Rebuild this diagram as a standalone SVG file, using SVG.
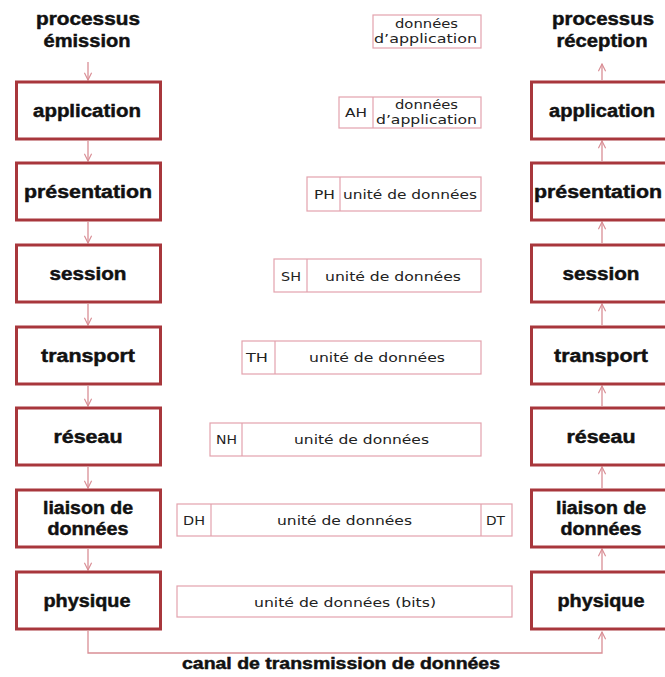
<svg xmlns="http://www.w3.org/2000/svg" width="665" height="677" viewBox="0 0 665 677">
<defs>
<style>
.layer{fill:#fff;stroke:#a8373c;stroke-width:3}
.lbl{font-family:"Liberation Sans",Arial,sans-serif;font-weight:bold;font-size:17.5px;fill:#111;stroke:#111;stroke-width:0.45;text-anchor:middle}
.pdu{fill:#fff;stroke:#e3a2ad;stroke-width:1.2}
.div{stroke:#e3a2ad;stroke-width:1.2}
.dt{font-family:"DejaVu Sans",Verdana,sans-serif;font-size:12.5px;fill:#222;text-anchor:middle}
.con{fill:none;stroke:#d98e95;stroke-width:1.3}
</style>
<marker id="ah" viewBox="0 0 10 10" refX="9" refY="5" markerWidth="9" markerHeight="9" markerUnits="userSpaceOnUse" orient="auto">
<polyline points="1,1 9,5 1,9" fill="none" stroke="#d98e95" stroke-width="1.3"/>
</marker>
</defs>
<rect width="665" height="677" fill="#fff"/>

<g id="connectors" class="con">
<line x1="88" y1="62" x2="88" y2="80" marker-end="url(#ah)"/>
<line x1="88" y1="141" x2="88" y2="161" marker-end="url(#ah)"/>
<line x1="88" y1="222" x2="88" y2="243" marker-end="url(#ah)"/>
<line x1="88" y1="304" x2="88" y2="325" marker-end="url(#ah)"/>
<line x1="88" y1="386" x2="88" y2="406" marker-end="url(#ah)"/>
<line x1="88" y1="467" x2="88" y2="488" marker-end="url(#ah)"/>
<line x1="88" y1="549" x2="88" y2="570" marker-end="url(#ah)"/>
<polyline points="88,631 88,653 602,653 602,632" marker-end="url(#ah)"/>
<line x1="602" y1="570" x2="602" y2="549" marker-end="url(#ah)"/>
<line x1="602" y1="488" x2="602" y2="467" marker-end="url(#ah)"/>
<line x1="602" y1="406" x2="602" y2="386" marker-end="url(#ah)"/>
<line x1="602" y1="325" x2="602" y2="304" marker-end="url(#ah)"/>
<line x1="602" y1="243" x2="602" y2="222" marker-end="url(#ah)"/>
<line x1="602" y1="161" x2="602" y2="141" marker-end="url(#ah)"/>
<line x1="602" y1="80" x2="602" y2="64" marker-end="url(#ah)"/>
</g>

<g id="title-emission"><text class="lbl" x="88" y="25" textLength="104" lengthAdjust="spacingAndGlyphs">processus</text><text class="lbl" x="87" y="47" textLength="87" lengthAdjust="spacingAndGlyphs">émission</text></g>
<g id="title-reception"><text class="lbl" x="603" y="25" textLength="102" lengthAdjust="spacingAndGlyphs">processus</text><text class="lbl" x="602" y="47" textLength="91" lengthAdjust="spacingAndGlyphs">réception</text></g>

<g id="s-application"><rect class="layer" x="16.5" y="82" width="144" height="57"/><text class="lbl" x="87" y="117" textLength="108" lengthAdjust="spacingAndGlyphs">application</text></g>
<g id="s-presentation"><rect class="layer" x="16.5" y="163" width="144" height="57"/><text class="lbl" x="88" y="198" textLength="128" lengthAdjust="spacingAndGlyphs">présentation</text></g>
<g id="s-session"><rect class="layer" x="16.5" y="245" width="144" height="57"/><text class="lbl" x="88" y="280" textLength="77" lengthAdjust="spacingAndGlyphs">session</text></g>
<g id="s-transport"><rect class="layer" x="16.5" y="327" width="144" height="57"/><text class="lbl" x="88" y="362" textLength="94" lengthAdjust="spacingAndGlyphs">transport</text></g>
<g id="s-reseau"><rect class="layer" x="16.5" y="408" width="144" height="57"/><text class="lbl" x="88" y="443" textLength="69" lengthAdjust="spacingAndGlyphs">réseau</text></g>
<g id="s-liaison"><rect class="layer" x="16.5" y="490" width="144" height="57"/><text class="lbl" x="88" y="514" textLength="90" lengthAdjust="spacingAndGlyphs">liaison de</text><text class="lbl" x="88" y="535" textLength="81" lengthAdjust="spacingAndGlyphs">données</text></g>
<g id="s-physique"><rect class="layer" x="16.5" y="572" width="144" height="57"/><text class="lbl" x="87" y="607" textLength="87" lengthAdjust="spacingAndGlyphs">physique</text></g>

<g id="r-application"><rect class="layer" x="531.5" y="82" width="150" height="57"/><text class="lbl" x="602" y="117" textLength="106" lengthAdjust="spacingAndGlyphs">application</text></g>
<g id="r-presentation"><rect class="layer" x="531.5" y="163" width="150" height="57"/><text class="lbl" x="598" y="198" textLength="128" lengthAdjust="spacingAndGlyphs">présentation</text></g>
<g id="r-session"><rect class="layer" x="531.5" y="245" width="150" height="57"/><text class="lbl" x="601" y="280" textLength="77" lengthAdjust="spacingAndGlyphs">session</text></g>
<g id="r-transport"><rect class="layer" x="531.5" y="327" width="150" height="57"/><text class="lbl" x="601" y="362" textLength="94" lengthAdjust="spacingAndGlyphs">transport</text></g>
<g id="r-reseau"><rect class="layer" x="531.5" y="408" width="150" height="57"/><text class="lbl" x="601" y="443" textLength="69" lengthAdjust="spacingAndGlyphs">réseau</text></g>
<g id="r-liaison"><rect class="layer" x="531.5" y="490" width="150" height="57"/><text class="lbl" x="601" y="514" textLength="90" lengthAdjust="spacingAndGlyphs">liaison de</text><text class="lbl" x="601" y="535" textLength="81" lengthAdjust="spacingAndGlyphs">données</text></g>
<g id="r-physique"><rect class="layer" x="531.5" y="572" width="150" height="57"/><text class="lbl" x="601" y="607" textLength="87" lengthAdjust="spacingAndGlyphs">physique</text></g>

<g id="pdu-app"><rect class="pdu" x="373" y="15" width="108" height="33"/><text class="dt" x="426.5" y="28" textLength="63" lengthAdjust="spacingAndGlyphs">données</text><text class="dt" x="425.5" y="43" textLength="103" lengthAdjust="spacingAndGlyphs">d’application</text></g>
<g id="pdu-ah"><rect class="pdu" x="339" y="97" width="142" height="31"/><line class="div" x1="373" y1="97" x2="373" y2="128"/><text class="dt" x="356" y="117" textLength="22" lengthAdjust="spacingAndGlyphs">AH</text><text class="dt" x="426.5" y="109" textLength="63" lengthAdjust="spacingAndGlyphs">données</text><text class="dt" x="426.5" y="124" textLength="101" lengthAdjust="spacingAndGlyphs">d’application</text></g>
<g id="pdu-ph"><rect class="pdu" x="307" y="177" width="174" height="34"/><line class="div" x1="340" y1="177" x2="340" y2="211"/><text class="dt" x="324.5" y="199" textLength="21" lengthAdjust="spacingAndGlyphs">PH</text><text class="dt" x="410" y="199" textLength="134" lengthAdjust="spacingAndGlyphs">unité de données</text></g>
<g id="pdu-sh"><rect class="pdu" x="274" y="259" width="207" height="33"/><line class="div" x1="307" y1="259" x2="307" y2="292"/><text class="dt" x="291" y="281" textLength="20" lengthAdjust="spacingAndGlyphs">SH</text><text class="dt" x="393" y="281" textLength="136" lengthAdjust="spacingAndGlyphs">unité de données</text></g>
<g id="pdu-th"><rect class="pdu" x="242" y="341" width="239" height="33"/><line class="div" x1="275" y1="341" x2="275" y2="374"/><text class="dt" x="257" y="362" textLength="22" lengthAdjust="spacingAndGlyphs">TH</text><text class="dt" x="377" y="362" textLength="136" lengthAdjust="spacingAndGlyphs">unité de données</text></g>
<g id="pdu-nh"><rect class="pdu" x="210" y="423" width="271" height="33"/><line class="div" x1="242" y1="423" x2="242" y2="456"/><text class="dt" x="226.5" y="444" textLength="21" lengthAdjust="spacingAndGlyphs">NH</text><text class="dt" x="361.5" y="444" textLength="135" lengthAdjust="spacingAndGlyphs">unité de données</text></g>
<g id="pdu-dh"><rect class="pdu" x="177" y="504" width="335" height="32"/><line class="div" x1="211" y1="504" x2="211" y2="536"/><line class="div" x1="481" y1="504" x2="481" y2="536"/><text class="dt" x="194" y="525" textLength="22" lengthAdjust="spacingAndGlyphs">DH</text><text class="dt" x="344.5" y="525" textLength="135" lengthAdjust="spacingAndGlyphs">unité de données</text><text class="dt" x="495.5" y="525" textLength="19" lengthAdjust="spacingAndGlyphs">DT</text></g>
<g id="pdu-bits"><rect class="pdu" x="177" y="586" width="335" height="31"/><text class="dt" x="345" y="607" textLength="182" lengthAdjust="spacingAndGlyphs">unité de données (bits)</text></g>

<g id="canal"><text class="lbl" x="341" y="669" textLength="318" lengthAdjust="spacingAndGlyphs" style="font-size:16px">canal de transmission de données</text></g>
</svg>
